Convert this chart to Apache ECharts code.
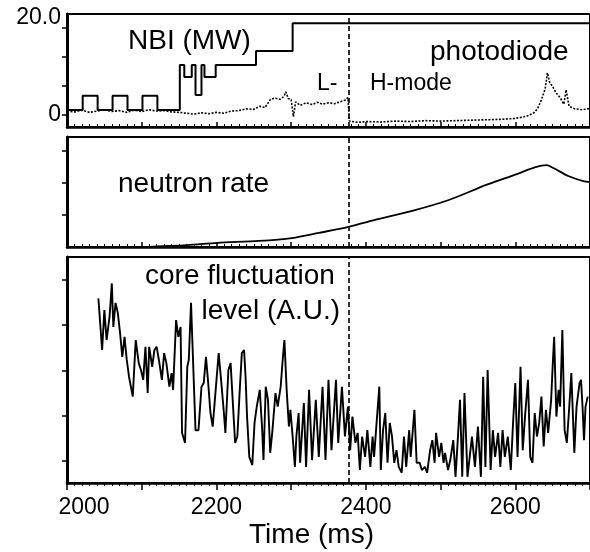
<!DOCTYPE html>
<html>
<head>
<meta charset="utf-8">
<script src="https://cdn.jsdelivr.net/npm/echarts@6/dist/echarts.min.js"></script>
<style>html,body{margin:0;padding:0;background:#fff}#c{width:590px;height:552px}</style>
</head>
<body>
<div id="c"></div>
<script>
// ---- data (time in ms) ----
const transitionTime = 2377;

const timeNBI = [2000,2021,2041,2061,2081,2101,2121,2151,2157,2167,2172,2180,2184,2199,2253,2302,2700];
const nbiMW   = [1.15,4.4,1.15,4.4,1.15,4.4,1.15,11.5,8.7,11.5,4.6,11.5,8.7,11.5,14.7,21.1,21.1];

const timePD = [2000,2010,2020,2030,2040,2050,2060,2070,2080,2090,2100,2110,2120,2130,2140,2150,2160,2170,2180,2190,2200,2210,2220,2230,2240,2250,2258,2265,2272,2278,2285,2290,2293,2296,2300,2303,2306,2312,2320,2328,2335,2342,2350,2358,2365,2372,2376,2378,2390,2400,2420,2440,2460,2480,2500,2520,2540,2560,2580,2600,2615,2625,2630,2635,2640,2643,2646,2650,2655,2660,2665,2668,2672,2680,2690,2700];
const photodiode = [0.9,0.7,1.1,0.6,0.9,1.2,0.8,1.0,0.6,1.1,0.8,1.2,0.9,1.0,0.7,0.6,0.4,0.2,0.5,0.3,0.6,0.4,0.9,1.0,1.4,1.3,2.0,1.7,3.5,3.9,3.6,4.2,5.3,3.8,3.6,-0.4,3.0,2.2,2.8,2.4,2.9,2.5,2.8,2.6,3.0,3.4,4.0,-1.4,-1.7,-1.5,-1.6,-1.4,-1.5,-1.3,-1.4,-1.3,-1.2,-1.1,-1.0,-0.8,-0.3,0.5,1.5,3.5,6.0,9.7,7.5,6.5,5.0,4.0,2.5,5.75,2.0,1.4,1.2,1.5];

const timeNeutron = [2100,2161,2201,2257,2301,2337,2377,2411,2462,2511,2562,2602,2627,2642,2651,2671,2691,2700];
const neutronRate = [0.0,0.06,0.13,0.19,0.28,0.44,0.63,0.84,1.13,1.47,1.95,2.28,2.5,2.56,2.47,2.22,2.06,2.03];

const timeCore = [2042,2047,2050,2053,2057,2060,2062,2065,2068,2071,2074,2077,2080,2083,2088,2092,2096,2099,2102,2105,2108,2110,2114,2117,2120,2123,2127,2130,2133,2137,2140,2142,2146,2149,2152,2154,2158,2161,2163,2166,2169,2172,2176,2180,2183,2186,2189,2192,2195,2199,2203,2207,2210,2212,2216,2219,2221,2225,2228,2231,2234,2237,2239,2241,2244,2248,2251,2254,2258,2261,2263,2266,2269,2272,2275,2279,2282,2286,2289,2291,2294,2297,2299,2302,2305,2307,2310,
2312,2317,2320,2324,2328,2333,2337,2342,2346,2350,2354,2360,2363,2368,2372,2376,2379,2382,2386,2389,2392,2395,2399,2402,2406,2409,2411,2414,2418,2420,2423,2426,2429,2432,2435,2438,2441,2444,2448,2451,2454,2458,2460,2465,2468,2472,2475,2479,2482,2486,2489,2492,2494,2498,2501,2504,2506,2510,2513,2517,2520,2523,2526,2529,2532,2536,2539,2542,2546,2550,2554,2557,2560,2563,2567,2570,2573,2577,2580,2583,2586,2590,2594,2597,2600,2603,2607,2610,2613,2617,2620,2623,2626,2629,2632,2635,2638,2641,2644,2648,2650,2652,2655,2658,2660,2663,2666,2669,2672,2675,2679,2682,2686,2688,2690,2692,2694,2697];
const coreLevel = [4.59,3.45,4.33,3.67,4.19,4.92,3.96,4.49,4.27,3.83,3.30,3.74,3.23,2.86,2.42,3.67,3.16,3.01,2.79,3.52,2.50,3.52,3.08,3.45,3.52,3.23,2.79,3.38,3.16,2.64,2.94,2.57,4.11,3.74,3.96,1.62,1.40,3.08,3.23,4.49,3.08,1.68,1.68,2.64,2.72,3.30,2.72,2.06,1.76,2.57,3.38,2.64,2.06,1.62,3.01,3.16,2.57,1.40,1.54,2.50,3.38,3.45,2.86,1.98,1.09,0.91,1.84,2.20,2.57,1.76,1.02,2.64,2.35,1.18,1.68,2.50,2.20,2.64,3.30,3.67,2.57,1.76,2.13,1.54,0.87,1.54,2.06,
0.96,2.28,0.87,2.57,1.02,2.35,1.09,2.64,1.02,2.79,1.24,2.79,1.40,2.64,1.54,2.20,1.24,1.98,1.40,1.62,0.80,1.54,1.09,1.68,0.87,1.54,1.09,1.76,2.64,0.80,1.68,2.06,0.96,1.84,1.54,0.96,1.24,0.87,0.74,1.54,0.87,1.68,1.09,2.13,0.96,0.96,0.80,0.87,0.74,1.24,1.46,0.96,1.62,1.09,1.40,0.96,1.18,0.80,1.02,1.46,0.65,1.46,2.35,0.65,2.50,0.65,1.09,1.54,0.87,1.76,0.65,2.86,0.87,3.01,0.80,1.68,1.09,1.62,0.87,1.68,1.09,1.54,0.80,1.84,2.72,1.09,3.08,1.24,1.98,2.79,1.09,0.96,2.06,1.54,1.84,2.42,1.32,2.13,1.62,2.35,3.08,3.74,1.98,2.57,2.20,3.89,1.68,1.40,2.13,2.94,1.18,2.20,2.72,2.79,2.20,1.46,2.20,2.42];

const xTickValues = [2000, 2200, 2400, 2600];
const xTickLabels = ['2000', '2200', '2400', '2600'];
const nbiLabelValues = [0, 20];
const nbiLabelTexts = ['0', '20.0'];
const nbiTickValues = [0, 6.67, 13.33, 20];
const neutronTickValues = [1, 2, 3];
const coreTickValues = [1, 2, 3, 4, 5];

// ---- chart ----
const FONT = "'Liberation Sans', Arial, Helvetica, sans-serif";
const zip = (a, b) => a.map((t, i) => [t, b[i]]);
const chart = echarts.init(document.getElementById('c'), null, {renderer: 'canvas'});

const gridBase = {left: 67, right: -3, show: true, borderColor: '#000', borderWidth: 2, backgroundColor: 'transparent'};

function xAxisFor(i, bottom) {
  return {
    type: 'value', gridIndex: i, min: 2000, max: 2700, interval: 100,
    axisLine: {show: true, onZero: false, lineStyle: {color: '#000', width: 2.5}},
    axisTick: {show: true, inside: !bottom, length: bottom ? 7 : 5, lineStyle: {color: '#000', width: 1.5}},
    minorTick: {show: true, splitNumber: 10, length: 3, lineStyle: {color: '#000', width: 1}},
    splitLine: {show: false},
    axisLabel: bottom ? {
      show: true, customValues: xTickValues, color: '#000', fontSize: 23, fontFamily: FONT, margin: 13,
      formatter: v => {
        const s = xTickLabels[xTickValues.indexOf(v)];
        return v === xTickValues[0] ? '{f|' + s + '}' : s;
      },
      rich: {f: {fontSize: 23, fontFamily: FONT, color: '#000', padding: [0, 0, 0, 34]}}
    } : {show: false},
    name: bottom ? 'Time (ms)' : '', nameLocation: 'middle', nameGap: 38,
    nameTextStyle: {color: '#000', fontSize: 28, fontFamily: FONT, padding: [0, 34, 0, 0]}
  };
}
function yAxisFor(i, min, max, ticks, labelCfg) {
  return {
    type: 'value', gridIndex: i, min: min, max: max,
    axisLine: {show: true, onZero: false, lineStyle: {color: '#000', width: 3}},
    axisTick: {show: true, inside: false, length: 5, customValues: ticks, lineStyle: {color: '#000', width: 1.5}},
    splitLine: {show: false},
    axisLabel: labelCfg || {show: false}
  };
}

const markV = {
  silent: true, symbol: ['none', 'none'], label: {show: false},
  lineStyle: {color: '#000', type: [5, 3], width: 1.6},
  data: [{xAxis: transitionTime}]
};

const option = {
  animation: false,
  backgroundColor: '#fff',
  grid: [
    Object.assign({top: 14, height: 113}, gridBase),
    Object.assign({top: 137, height: 110}, gridBase),
    Object.assign({top: 257, height: 226}, gridBase)
  ],
  xAxis: [xAxisFor(0, false), xAxisFor(1, false), xAxisFor(2, true)],
  yAxis: [
    yAxisFor(0, -2.76, 23.2, nbiTickValues, {
      show: true, customValues: nbiLabelValues, color: '#000', fontSize: 23, fontFamily: FONT, margin: 6,
      formatter: v => {
        const s = nbiLabelTexts[nbiLabelValues.indexOf(v)];
        return v === nbiLabelValues[1] ? '{t|' + s + '}' : s;
      },
      rich: {t: {fontSize: 23, fontFamily: FONT, color: '#000', padding: [0, 0, 20, 0]}}
    }),
    yAxisFor(1, 0, 3.44, neutronTickValues),
    yAxisFor(2, 0.514, 5.503, coreTickValues)
  ],
  series: [
    {name: 'NBI', type: 'line', xAxisIndex: 0, yAxisIndex: 0, step: 'end', showSymbol: false, symbol: 'none',
     lineStyle: {color: '#000', width: 2}, data: zip(timeNBI, nbiMW), z: 3},
    {name: 'photodiode', type: 'line', xAxisIndex: 0, yAxisIndex: 0, showSymbol: false, symbol: 'none',
     lineStyle: {color: '#000', width: 1.6, type: [2, 1.5]}, data: zip(timePD, photodiode), markLine: markV, z: 2},
    {name: 'neutron rate', type: 'line', xAxisIndex: 1, yAxisIndex: 1, showSymbol: false, symbol: 'none', smooth: 0.3,
     lineStyle: {color: '#000', width: 1.8}, data: zip(timeNeutron, neutronRate), markLine: markV},
    {name: 'core fluctuation', type: 'line', xAxisIndex: 2, yAxisIndex: 2, showSymbol: false, symbol: 'none',
     lineStyle: {color: '#000', width: 1.9}, data: zip(timeCore, coreLevel), markLine: markV}
  ],
  graphic: [
    {type: 'text', x: 128, y: 41, style: {text: 'NBI (MW)', font: '28px ' + FONT, fill: '#000', verticalAlign: 'middle'}},
    {type: 'text', x: 430, y: 52, style: {text: 'photodiode', font: '28px ' + FONT, fill: '#000', verticalAlign: 'middle'}},
    {type: 'text', x: 317, y: 84, style: {text: 'L-', font: '23px ' + FONT, fill: '#000', verticalAlign: 'middle'}},
    {type: 'text', x: 370, y: 84, style: {text: 'H-mode', font: '23px ' + FONT, fill: '#000', verticalAlign: 'middle'}},
    {type: 'text', x: 118, y: 184, style: {text: 'neutron rate', font: '28px ' + FONT, fill: '#000', verticalAlign: 'middle'}},
    {type: 'text', x: 145, y: 276, style: {text: 'core fluctuation', font: '28px ' + FONT, fill: '#000', verticalAlign: 'middle'}},
    {type: 'text', x: 340, y: 311, style: {text: 'level (A.U.)', font: '28px ' + FONT, fill: '#000', verticalAlign: 'middle', align: 'right'}}
  ]
};
chart.setOption(option);
</script>
</body>
</html>
